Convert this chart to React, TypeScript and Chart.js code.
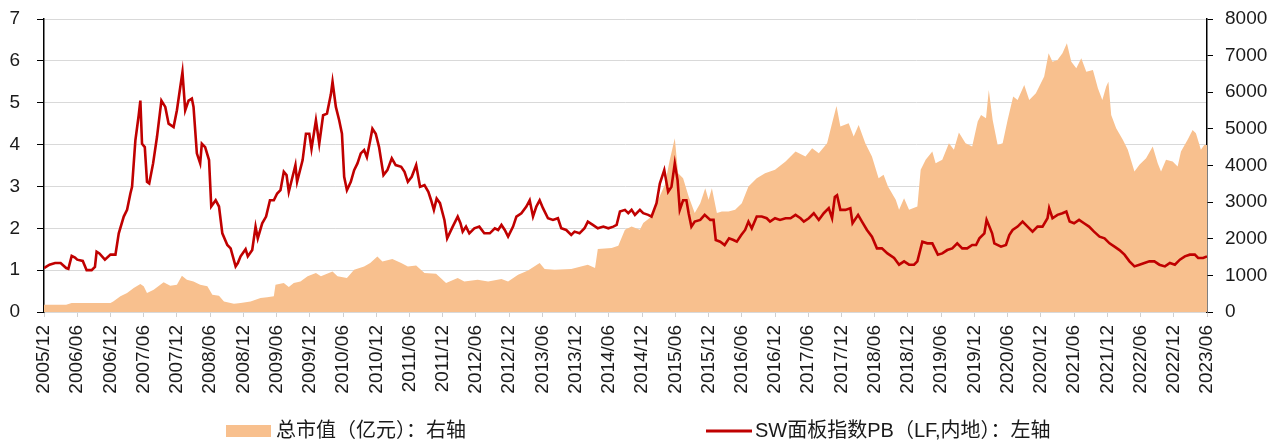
import React, { useEffect, useRef } from 'react';
import { Chart, registerables } from 'chart.js';

Chart.register(...registerables);

// Half-year tick labels (x = months since 2005/12)
const xTickLabels = [
  '2005/12', '2006/06', '2006/12', '2007/06', '2007/12', '2008/06', '2008/12', '2009/06',
  '2009/12', '2010/06', '2010/12', '2011/06', '2011/12', '2012/06', '2012/12', '2013/06',
  '2013/12', '2014/06', '2014/12', '2015/06', '2015/12', '2016/06', '2016/12', '2017/06',
  '2017/12', '2018/06', '2018/12', '2019/06', '2019/12', '2020/06', '2020/12', '2021/06',
  '2021/12', '2022/06', '2022/12', '2023/06',
];

// SW panel index PB (LF) – months since 2005/12, value (left axis)
const pbMonths = [
  0, 1, 2, 3, 4, 4.4, 5, 5.6, 6, 7, 7.7, 8.6, 9.2, 9.5, 10, 11, 12, 12.9, 13.5, 14.4,
  15, 15.6, 15.9, 16.5, 17.1, 17.4, 17.7, 18.2, 18.6, 19, 19.7, 20.4, 21.2, 21.9, 22.5, 23.4,
  24, 24.6, 25, 25.5, 26.1, 26.7, 27, 27.6, 28.2, 28.5, 29.1, 29.8, 30.2, 31, 31.6, 32.2,
  33.1, 33.7, 34.6, 35, 35.5, 36.4, 36.8, 37.6, 38.2, 38.6, 39.4, 40.1, 40.8, 41.5, 42.1, 42.7,
  43.3, 43.8, 44.2, 44.8, 45.4, 45.7, 46.7, 47.3, 47.9, 48.3, 49.1, 49.7, 50.4, 51.1, 51.8, 52.1,
  52.7, 53.3, 53.8, 54.2, 54.7, 55.4, 56, 56.6, 57.2, 57.8, 58.3, 58.9, 59.3, 59.9, 60.5, 61.3,
  62, 62.8, 63.5, 64.5, 65.1, 65.7, 66.4, 67.2, 67.9, 68.7, 69.4, 69.9, 70.4, 70.9, 71.5, 72.3,
  72.8, 73.8, 74.7, 75.2, 75.6, 76.2, 76.8, 77.7, 78.6, 79.5, 80.5, 81.4, 82, 82.6, 83.2, 83.8,
  84.7, 85.3, 86.2, 87.1, 87.7, 88.3, 88.9, 89.5, 90.1, 91, 91.9, 92.8, 93.4, 94.3, 95.2, 95.8,
  96.7, 97.6, 98.2, 99.1, 100, 101, 101.9, 102.8, 103.4, 104, 104.9, 105.5, 106.1, 106.7, 107.6, 108.2,
  109.1, 109.7, 110.6, 111.2, 112, 112.7, 113.3, 113.9, 114.4, 114.8, 115.4, 116, 116.4, 116.9, 117.5, 118.5,
  119.3, 120.3, 120.9, 121.3, 122.1, 122.9, 123.7, 124.5, 125.1, 125.9, 126.6, 127.2, 127.8, 128.7, 129.6, 130.5,
  131.1, 132, 132.9, 133.9, 134.8, 135.7, 136.6, 137.2, 138.1, 139, 139.9, 140.8, 141.7, 142.3, 142.8, 143.2,
  143.8, 144.7, 145.6, 146, 147, 147.7, 148.6, 149.5, 150.4, 151.3, 152.3, 153.5, 154.4, 155.3, 156.2, 157.1,
  157.7, 158.6, 159.5, 160.4, 161.4, 162.2, 163.1, 164, 164.9, 165.8, 166.7, 167.6, 168.3, 168.9, 169.8, 170.2,
  170.7, 171.2, 171.6, 172.8, 173.7, 174.3, 174.9, 175.8, 176.7, 177.6, 178.5, 179.4, 180.3, 181.2, 181.5, 182.1,
  183, 183.9, 184.6, 185.2, 186, 186.9, 187.8, 188.7, 189.6, 190.6, 191.5, 192.4, 193.3, 194.2, 195.1, 196,
  196.9, 197.8, 198.7, 199.6, 200.5, 201.4, 202.4, 203.3, 204.2, 205.1, 206, 206.9, 207.8, 208.4, 209.3, 210,
];
const pbValues = [
  1.05, 1.13, 1.17, 1.17, 1.05, 1.03, 1.34, 1.3, 1.25, 1.22, 1.0, 1.0, 1.08, 1.44, 1.4, 1.25, 1.37, 1.37, 1.88, 2.28,
  2.44, 2.83, 2.99, 4.1, 4.7, 5.05, 4.02, 3.94, 3.11, 3.07, 3.55, 4.18, 5.05, 4.9, 4.5, 4.42,
  4.82, 5.37, 5.73, 4.82, 5.05, 5.1, 4.9, 3.79, 3.55, 4.02, 3.94, 3.63, 2.52, 2.67, 2.52, 1.88,
  1.6, 1.52, 1.09, 1.17, 1.33, 1.5, 1.33, 1.48, 2.04, 1.76, 2.12, 2.28, 2.67, 2.67, 2.83, 2.91,
  3.35, 3.27, 2.87, 3.19, 3.51, 3.11, 3.63, 4.26, 4.26, 3.9, 4.58, 4.02, 4.7, 4.74, 5.2, 5.5,
  4.9, 4.58, 4.26, 3.23, 2.91, 3.11, 3.39, 3.55, 3.79, 3.87, 3.7, 4.1, 4.38, 4.26, 3.94, 3.27,
  3.39, 3.67, 3.51, 3.47, 3.35, 3.11, 3.23, 3.51, 2.99, 3.03, 2.87, 2.67, 2.44, 2.71, 2.6, 2.2,
  1.76, 2.04, 2.28, 2.12, 1.92, 2.04, 1.88, 2.0, 2.04, 1.88, 1.88, 2.0, 1.96, 2.08, 1.96, 1.8,
  2.04, 2.28, 2.36, 2.52, 2.67, 2.28, 2.52, 2.67, 2.48, 2.24, 2.2, 2.24, 2.0, 1.96, 1.84, 1.92,
  1.88, 2.0, 2.16, 2.08, 2.0, 2.04, 2.0, 2.04, 2.08, 2.4, 2.44, 2.36, 2.44, 2.32, 2.44, 2.36,
  2.32, 2.28, 2.6, 3.07, 3.39, 2.87, 2.99, 3.55, 3.15, 2.44, 2.67, 2.67, 2.36, 2.04, 2.16, 2.2,
  2.32, 2.2, 2.2, 1.72, 1.68, 1.6, 1.76, 1.72, 1.68, 1.84, 1.96, 2.16, 2.0, 2.28, 2.28, 2.24,
  2.16, 2.24, 2.2, 2.24, 2.24, 2.32, 2.24, 2.16, 2.24, 2.36, 2.2, 2.36, 2.48, 2.24, 2.75, 2.79,
  2.44, 2.44, 2.48, 2.12, 2.32, 2.16, 1.96, 1.8, 1.52, 1.52, 1.4, 1.29, 1.13, 1.21, 1.13, 1.13,
  1.21, 1.68, 1.64, 1.64, 1.37, 1.4, 1.48, 1.52, 1.64, 1.52, 1.52, 1.6, 1.6, 1.76, 1.88, 2.2,
  2.04, 1.88, 1.64, 1.56, 1.6, 1.84, 1.96, 2.04, 2.16, 2.04, 1.92, 2.04, 2.04, 2.24, 2.48, 2.24,
  2.32, 2.36, 2.4, 2.16, 2.12, 2.2, 2.12, 2.04, 1.92, 1.8, 1.76, 1.64, 1.56, 1.48, 1.37, 1.21,
  1.09, 1.13, 1.17, 1.21, 1.21, 1.13, 1.09, 1.17, 1.13, 1.25, 1.33, 1.37, 1.37, 1.29, 1.29, 1.33,
];

// Total market cap (100M CNY) – months since 2005/12, value (right axis)
const capMonths = [
  0, 4, 5, 12, 12.5, 13.8, 15, 16.2, 17.4, 18, 18.6, 19.8, 21.6, 22.8, 24, 24.9,
  25.8, 27, 28.2, 29.5, 30.4, 31.6, 32.5, 34.3, 35.5, 37.3, 39.1, 40.3, 41.5, 41.8, 43.3, 44.2,
  45.1, 46.3, 47.6, 49.1, 50, 52.1, 53, 54.7, 56, 57.8, 58.9, 60.2, 61.1, 62.9, 64.5, 65.7,
  67.2, 68.7, 70.8, 72.6, 74.7, 75.9, 78.3, 80.2, 82.6, 83.8, 85.6, 87.4, 89.5, 90.4, 92.2, 95.2,
  98.2, 99.5, 100, 102.5, 103.7, 104.9, 106.1, 107.6, 108.2, 109.7, 110.9, 112.1, 113, 113.9, 114.5, 115.4,
  116.4, 117.5, 118.5, 119.4, 120, 120.6, 121.5, 122.4, 123.6, 124.8, 126, 127.2, 128.7, 130.2, 132, 133.9,
  135.7, 137.5, 138.7, 139.9, 141.4, 142.3, 143.1, 143.8, 145.3, 146.2, 147.1, 148.3, 149.5, 150.7, 151.6, 152.4,
  153.8, 154.4, 155.3, 156.2, 157.7, 158.3, 159.2, 160.4, 161, 162.2, 163.4, 164.3, 165.2, 166.4, 167.6, 168.6,
  169.2, 170.1, 170.6, 171.3, 172.2, 173.1, 174, 175, 175.8, 177, 177.9, 179.1, 180, 180.6, 181.4, 182.1,
  183, 183.9, 184.7, 185.5, 186.4, 187.3, 188.2, 189.4, 190.3, 191.1, 191.8, 192.2, 192.7, 193.6, 194.8, 195.7,
  196.9, 197.8, 199, 200.2, 201.1, 201.7, 202.6, 203.8, 204.7, 205.3, 206.5, 207.4, 208, 208.9, 209.5, 210,
];
const capValues = [
  200, 200, 245, 245, 290, 427, 518, 655, 764, 700, 518, 610, 809, 718, 745, 990,
  880, 836, 745, 700, 473, 445, 290, 227, 245, 290, 380, 400, 427, 745, 790, 682,
  790, 836, 973, 1063, 973, 1109, 973, 927, 1154, 1245, 1336, 1518, 1381, 1445, 1336, 1245,
  1273, 1063, 1045, 790, 927, 836, 882, 836, 900, 836, 1018, 1136, 1336, 1172, 1154, 1172,
  1291, 1200, 1718, 1745, 1809, 2245, 2336, 2245, 2427, 2609, 3063, 3473, 4154, 4745, 3790, 3654,
  3154, 2700, 2972, 3381, 3063, 3381, 2700, 2745, 2745, 2790, 2972, 3427, 3654, 3790, 3882, 4109,
  4381, 4245, 4472, 4336, 4609, 5154, 5627, 5063, 5154, 4790, 5109, 4609, 4245, 3654, 3745, 3427,
  3063, 2790, 3109, 2790, 2881, 3882, 4154, 4381, 4063, 4154, 4609, 4427, 4900, 4609, 4518, 5200,
  5381, 5290, 6063, 5245, 4563, 4609, 5245, 5881, 5790, 6200, 5790, 5972, 6245, 6427, 7063, 6836,
  6881, 7063, 7336, 6836, 6654, 6927, 6563, 6609, 6109, 5790, 6154, 6290, 5381, 5018, 4700, 4427,
  3836, 4018, 4200, 4518, 4063, 3836, 4154, 4109, 3972, 4381, 4700, 4972, 4881, 4427, 4563, 4563,
];

const AREA_LABEL = '总市值（亿元）：右轴';
const LINE_LABEL = 'SW面板指数PB（LF,内地）：左轴';
const AREA_COLOR = '#F8C08E';
const LINE_COLOR = '#C00000';
const FONT = "'Liberation Sans', Arial, 'Noto Sans CJK SC', sans-serif";
const TEXT_COLOR = '#1a1a1a';

const bottomLegend = {
  id: 'bottomLegend',
  afterDraw(chart: any) {
    const ctx = chart.ctx as CanvasRenderingContext2D;
    const cy = 431;
    ctx.save();
    ctx.font = `20px ${FONT}`;
    ctx.textBaseline = 'middle';
    ctx.textAlign = 'left';
    ctx.fillStyle = AREA_COLOR;
    ctx.fillRect(226, cy - 6, 45, 12);
    ctx.fillStyle = TEXT_COLOR;
    ctx.fillText(AREA_LABEL, 276, cy);
    ctx.strokeStyle = LINE_COLOR;
    ctx.lineWidth = 3;
    ctx.beginPath();
    ctx.moveTo(706, cy);
    ctx.lineTo(752, cy);
    ctx.stroke();
    ctx.fillStyle = TEXT_COLOR;
    ctx.fillText(LINE_LABEL, 755, cy);
    ctx.restore();
  },
};

export default function App() {
  const ref = useRef<HTMLCanvasElement | null>(null);

  useEffect(() => {
    if (!ref.current) return;
    const pbData = pbMonths.map((m, i) => ({ x: m, y: pbValues[i] }));
    const capData = capMonths.map((m, i) => ({ x: m, y: capValues[i] }));
    const tickFont = { family: FONT, size: 19 };
    const chart = new Chart(ref.current, {
      type: 'line',
      data: {
        datasets: [
          {
            label: LINE_LABEL,
            data: pbData,
            yAxisID: 'y',
            borderColor: LINE_COLOR,
            borderWidth: 2.6,
            pointRadius: 0,
            tension: 0,
            fill: false,
          },
          {
            label: AREA_LABEL,
            data: capData,
            yAxisID: 'y1',
            borderWidth: 0,
            borderColor: AREA_COLOR,
            backgroundColor: AREA_COLOR,
            pointRadius: 0,
            tension: 0,
            fill: 'origin',
          },
        ],
      },
      options: {
        animation: false,
        responsive: false,
        devicePixelRatio: 1,
        layout: { padding: { top: 19, bottom: 40, left: 0, right: 0 } },
        plugins: { legend: { display: false }, tooltip: { enabled: false } },
        scales: {
          x: {
            type: 'linear',
            min: 0,
            max: 210,
            ticks: {
              stepSize: 6,
              autoSkip: false,
              minRotation: 90,
              maxRotation: 90,
              padding: 8,
              font: tickFont,
              color: TEXT_COLOR,
              callback: (v: any) => xTickLabels[Math.round(Number(v) / 6)],
            },
            grid: { drawOnChartArea: false, color: '#D0D0D0', tickLength: 5, lineWidth: 1 },
            border: { color: '#D9D9D9', width: 2 },
            afterFit: (s: any) => { s.height = 88; },
          },
          y: {
            position: 'left',
            min: 0,
            max: 7,
            ticks: { stepSize: 1, padding: 17, font: tickFont, color: TEXT_COLOR },
            grid: { color: '#D9D9D9', lineWidth: 1, tickColor: '#000', tickLength: 7 },
            border: { color: '#000', width: 1.5 },
            afterFit: (s: any) => { s.width = 44; s.paddingTop = 0; s.paddingBottom = 0; },
          },
          y1: {
            position: 'right',
            min: 0,
            max: 8000,
            ticks: {
              stepSize: 1000,
              padding: 12,
              font: tickFont,
              color: TEXT_COLOR,
              callback: (v: any) => String(v),
            },
            grid: { drawOnChartArea: false, tickColor: '#000', tickLength: 6 },
            border: { color: '#000', width: 1.5 },
            afterFit: (s: any) => { s.width = 65; s.paddingTop = 0; s.paddingBottom = 0; },
          },
        },
      },
      plugins: [bottomLegend],
    });
    return () => chart.destroy();
  }, []);

  return (
    <div style={{ position: 'fixed', left: 0, top: 0, width: 1272, height: 440, background: '#fff' }}>
      <canvas ref={ref} width={1272} height={440} style={{ width: 1272, height: 440, display: 'block' }} />
    </div>
  );
}
